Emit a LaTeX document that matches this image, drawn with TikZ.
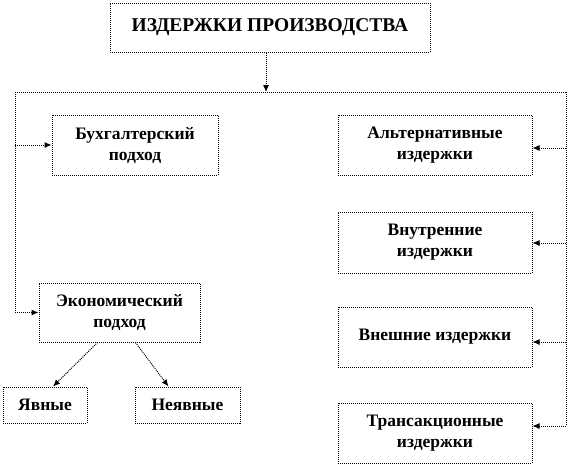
\documentclass[tikz,border=0pt]{standalone}
\usepackage{fontspec}
\setmainfont{Liberation Serif}
\usetikzlibrary{arrows.meta}
\begin{document}
\begin{tikzpicture}[x=1pt,y=-1pt,
    box/.style={draw, densely dotted, line width=1pt, align=center, inner sep=0pt,
      font=\bfseries\fontsize{17.5}{21}\selectfont},
    link/.style={densely dotted, line width=1pt},
    arr/.style={link, -{Latex[length=7pt,width=6pt]}}]
  \useasboundingbox (0,0) rectangle (568,466);

  \node[box, minimum width=320pt, minimum height=49pt, font=\bfseries\fontsize{19.5}{23}\selectfont] (costs) at (270,27.5) {ИЗДЕРЖКИ ПРОИЗВОДСТВА};

  \node[box, minimum width=166pt, minimum height=60pt] (buh) at (135,145) {Бухгалтерский\\подход};
  \node[box, minimum width=161pt, minimum height=59pt] (econ) at (119.5,312.5) {Экономический\\подход};
  \node[box, minimum width=84pt, minimum height=36pt] (expl) at (45,405) {Явные};
  \node[box, minimum width=105pt, minimum height=36pt] (impl) at (187.5,405) {Неявные};

  \node[box, minimum width=194pt, minimum height=60pt] (alt) at (435,145) {Альтернативные\\издержки};
  \node[box, minimum width=194pt, minimum height=61pt] (inner) at (435,242.5) {Внутренние\\издержки};
  \node[box, minimum width=194pt, minimum height=60pt] (outer) at (435,337) {Внешние издержки};
  \node[box, minimum width=194pt, minimum height=60pt] (trans) at (435,433) {Трансакционные\\издержки};

  \coordinate (mid) at (266,92);
  \coordinate (left) at (15,92);
  \coordinate (right) at (566,92);

  \draw[arr] (costs.south -| mid) -- (mid);
  \draw[link] (left) -- (right);
  \draw[link] (left) -- (left |- econ.west);
  \draw[arr] (left |- buh.west) -- (buh.west);
  \draw[arr] (left |- econ.west) -- (econ.west);
  \draw[link] (right) -- (566,426);
  \foreach \n/\y in {alt/148,inner/243,outer/342,trans/426} {
      \draw[arr] (566,\y) -- (\n.east |- 0,\y);
    }

  \draw[arr] ([xshift=-22pt]econ.south) -- ([xshift=8pt]expl.north);
  \draw[arr] ([xshift=16pt]econ.south) -- ([xshift=-19pt]impl.north);
\end{tikzpicture}
\end{document}
